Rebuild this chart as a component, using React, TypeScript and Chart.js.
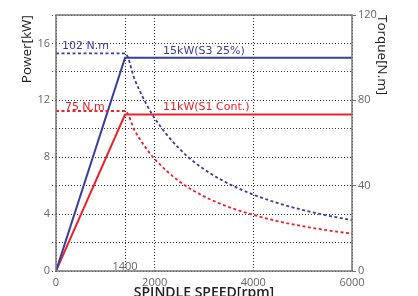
import React, { useEffect, useRef } from "react";
import { Chart, registerables } from "chart.js";

Chart.register(...registerables);

const rpmPower = [0, 1400, 6000];
const powerS3 = [0, 15, 15];
const powerS1 = [0, 11, 11];
const rpmTorque = [0, 1400, 1600, 1800, 2000, 2500, 3000, 3500, 4000, 4500, 5000, 5500, 6000];
const torqueS3 = [102, 102, 89.5, 79.6, 71.6, 57.3, 47.7, 40.9, 35.8, 31.8, 28.6, 26.0, 23.9];
const torqueS1 = [75, 75, 65.6, 58.4, 52.5, 42.0, 35.0, 30.0, 26.3, 23.3, 21.0, 19.1, 17.5];
const xTicks = [0, 1400, 2000, 4000, 6000];
const labelsText = ["102 N.m", "15kW(S3 25%)", "75 N.m", "11kW(S1 Cont.)"];

const BLUE = "#3b3d9e";
const RED = "#ee2229";
const FONT = "'Open Sans', 'Noto Sans', sans-serif";
const LABEL_FONT = "'DejaVu Sans', sans-serif";

export default function App() {
  const ref = useRef<HTMLCanvasElement | null>(null);
  useEffect(() => {
    if (!ref.current) return;
    const pts = (xs: number[], ys: number[]) => xs.map((x, i) => ({ x, y: ys[i] }));
    const annot = {
      id: "annot",
      afterDraw(chart: any) {
        const { ctx, chartArea: a, scales } = chart;
        const xs = scales.x;
        const ys = scales.y;
        ctx.save();
        ctx.strokeStyle = "#777";
        ctx.lineWidth = 1.5;
        ctx.setLineDash([]);
        ctx.strokeRect(a.left, a.top, a.right - a.left, a.bottom - a.top);
        ctx.font = `11px ${LABEL_FONT}`;
        ctx.textBaseline = "middle";
        ctx.textAlign = "left";
        ctx.fillStyle = BLUE;
        ctx.fillText(labelsText[0], xs.getPixelForValue(120), ys.getPixelForValue(15.8));
        ctx.fillText(labelsText[1], xs.getPixelForValue(2170), ys.getPixelForValue(15.45));
        ctx.fillStyle = RED;
        ctx.fillText(labelsText[2], xs.getPixelForValue(180), ys.getPixelForValue(11.55));
        ctx.fillText(labelsText[3], xs.getPixelForValue(2170), ys.getPixelForValue(11.5));
        ctx.fillStyle = "#666";
        ctx.font = `11px ${FONT}`;
        ctx.textAlign = "center";
        ctx.fillText("1400", xs.getPixelForValue(1400), ys.getPixelForValue(0.3));
        ctx.restore();
      },
    };
    const chart = new Chart(ref.current, {
      type: "line",
      data: {
        datasets: [
          {
            data: pts(rpmTorque, torqueS3),
            yAxisID: "y1",
            borderColor: BLUE,
            borderWidth: 1.8,
            borderDash: [3, 2.5],
            pointRadius: 0,
            cubicInterpolationMode: "monotone",
          },
          {
            data: pts(rpmTorque, torqueS1),
            yAxisID: "y1",
            borderColor: RED,
            borderWidth: 1.8,
            borderDash: [3, 2.5],
            pointRadius: 0,
            cubicInterpolationMode: "monotone",
          },
          {
            data: pts(rpmPower, powerS3),
            yAxisID: "y",
            borderColor: BLUE,
            borderWidth: 2,
            pointRadius: 0,
          },
          {
            data: pts(rpmPower, powerS1),
            yAxisID: "y",
            borderColor: RED,
            borderWidth: 2,
            pointRadius: 0,
          },
        ],
      },
      options: {
        responsive: false,
        animation: false,
        layout: { padding: { top: 15, left: 0, right: 0, bottom: 0 } },
        plugins: { legend: { display: false }, tooltip: { enabled: false } },
        scales: {
          x: {
            type: "linear",
            min: 0,
            max: 6000,
            afterBuildTicks: (s: any) => {
              s.ticks = xTicks.map((v) => ({ value: v }));
            },
            afterFit: (s: any) => {
              s.height = 25;
            },
            grid: {
              color: "#333",
              lineWidth: 1,
              drawTicks: false,
            },
            border: { display: false, dash: [1, 2] },
            ticks: {
              padding: 5,
              color: "#666",
              font: { family: FONT, size: 11 },
              maxRotation: 0,
              callback: (v: any) => (v === 1400 ? "" : String(v)),
            },
            title: {
              display: true,
              text: "SPINDLE SPEED[rpm]",
              color: "#222",
              font: { family: FONT, size: 14, weight: "600" },
              padding: { top: 0, bottom: -5 },
            },
          },
          y: {
            type: "linear",
            position: "left",
            min: 0,
            max: 18,
            afterFit: (s: any) => {
              s.width = 56;
            },
            grid: {
              color: "#333",
              lineWidth: 1,
              tickLength: 4,
              tickBorderDash: [1, 2],
              tickColor: "#444",
            },
            border: { display: false, dash: [1, 2] },
            ticks: {
              stepSize: 2,
              padding: 2,
              color: "#666",
              font: { family: FONT, size: 11 },
              callback: (v: any) => (v % 4 === 0 ? String(v) : ""),
            },
            title: {
              display: true,
              text: "Power[kW]",
              align: "end",
              color: "#222",
              font: { family: FONT, size: 13.5 },
              padding: { top: 19, bottom: 0 },
            },
          },
          y1: {
            type: "linear",
            position: "right",
            min: 0,
            max: 120,
            afterFit: (s: any) => {
              s.width = 66;
            },
            grid: {
              drawOnChartArea: false,
              tickLength: 4,
              tickColor: "#777",
            },
            border: { display: false },
            ticks: {
              stepSize: 40,
              padding: 2,
              color: "#666",
              font: { family: FONT, size: 11 },
            },
            title: {
              display: true,
              text: "Torque[N.m]",
              align: "end",
              color: "#222",
              font: { family: FONT, size: 13.5 },
              padding: { top: 28, bottom: 0 },
            },
          },
        },
      },
      plugins: [annot],
    } as any);
    return () => chart.destroy();
  }, []);
  return (
    <div style={{ position: "fixed", left: 0, top: 0, width: 418, height: 296, background: "#fff" }}>
      <canvas ref={ref} width={418} height={296} />
    </div>
  );
}
